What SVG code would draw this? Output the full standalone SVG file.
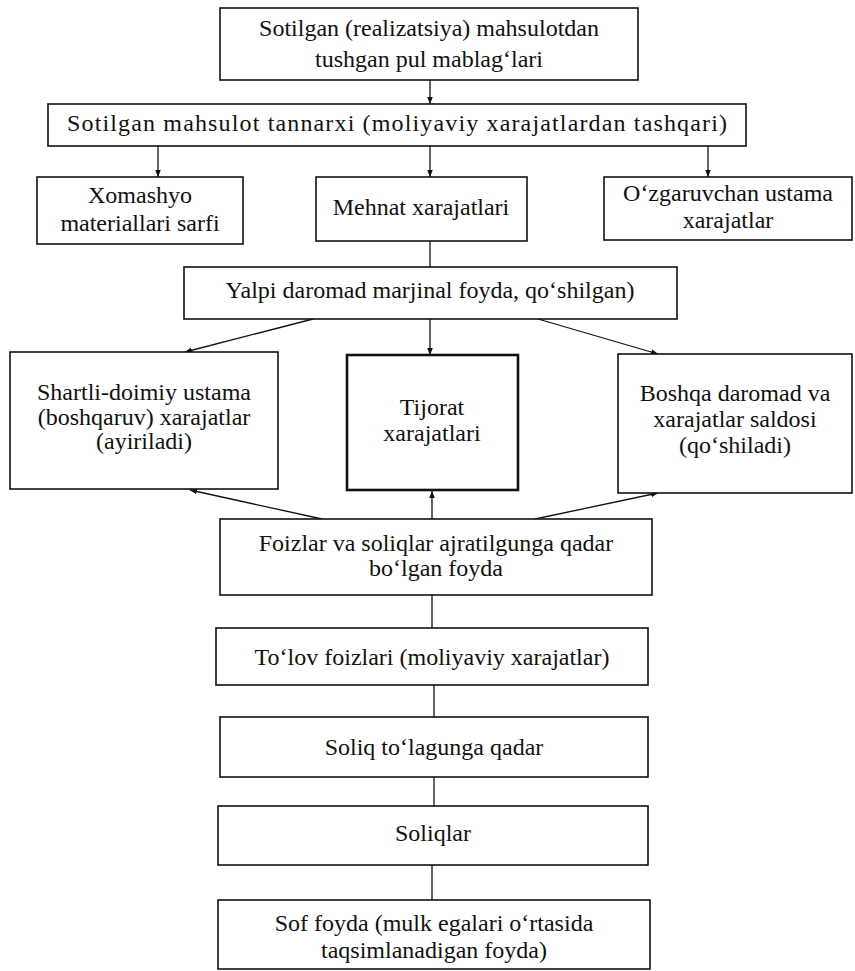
<svg xmlns="http://www.w3.org/2000/svg" width="855" height="971" viewBox="0 0 855 971">
<style>
rect{fill:#fff;stroke:#111;stroke-width:1.6}
.thick{stroke-width:2.6}
text{font-family:"Liberation Serif","Times New Roman",serif;font-size:24px;fill:#111;text-anchor:middle}
.c line{stroke:#111;stroke-width:1.3}
</style>
<defs>
<marker id="a" viewBox="0 0 10 10" refX="10" refY="5" markerWidth="7" markerHeight="7" orient="auto" markerUnits="userSpaceOnUse"><path d="M0,1 L10,5 L0,9 z" fill="#111"/></marker>
</defs>
<rect width="855" height="971" style="fill:#fff;stroke:none"/>
<g class="c">
<line x1="430" y1="80" x2="430" y2="104" marker-end="url(#a)"/>
<line x1="158" y1="146" x2="158" y2="177" marker-end="url(#a)"/>
<line x1="430" y1="146" x2="430" y2="177" marker-end="url(#a)"/>
<line x1="708" y1="146" x2="708" y2="177" marker-end="url(#a)"/>
<line x1="430" y1="241" x2="430" y2="267"/>
<line x1="313" y1="319" x2="185" y2="352" marker-end="url(#a)"/>
<line x1="430" y1="319" x2="430" y2="355" marker-end="url(#a)"/>
<line x1="538" y1="319" x2="658" y2="354" marker-end="url(#a)"/>
<line x1="322" y1="519" x2="190" y2="490" marker-end="url(#a)"/>
<line x1="432" y1="519" x2="432" y2="491" marker-end="url(#a)"/>
<line x1="535" y1="519" x2="658" y2="493" marker-end="url(#a)"/>
<line x1="432" y1="595" x2="432" y2="628"/>
<line x1="434" y1="685" x2="434" y2="717"/>
<line x1="434" y1="777" x2="434" y2="806"/>
<line x1="432" y1="865" x2="432" y2="900"/>
</g>
<g id="n1"><rect x="220" y="8" width="418" height="72"/><text x="429" y="36">Sotilgan (realizatsiya) mahsulotdan</text><text x="429" y="67">tushgan pul mablag‘lari</text></g>
<g id="n2"><rect x="48" y="104" width="698" height="42"/><text x="397" y="131" textLength="660" lengthAdjust="spacing">Sotilgan mahsulot tannarxi (moliyaviy xarajatlardan tashqari)</text></g>
<g id="n3"><rect x="37" y="177" width="206" height="67"/><text x="140" y="203">Xomashyo</text><text x="140" y="231">materiallari sarfi</text></g>
<g id="n4"><rect x="316" y="177" width="211" height="64"/><text x="421" y="215">Mehnat xarajatlari</text></g>
<g id="n5"><rect x="604" y="177" width="248" height="63"/><text x="728" y="201">O‘zgaruvchan ustama</text><text x="728" y="228">xarajatlar</text></g>
<g id="n6"><rect x="184" y="267" width="493" height="52"/><text x="430" y="298">Yalpi daromad marjinal foyda, qo‘shilgan)</text></g>
<g id="n7"><rect x="10" y="352" width="268" height="137"/><text x="144" y="400">Shartli-doimiy ustama</text><text x="144" y="425">(boshqaruv) xarajatlar</text><text x="144" y="449">(ayiriladi)</text></g>
<g id="n8"><rect class="thick" x="347" y="355" width="171" height="135"/><text x="432" y="415">Tijorat</text><text x="432" y="441">xarajatlari</text></g>
<g id="n9"><rect x="618" y="354" width="234" height="139"/><text x="735" y="401">Boshqa daromad va</text><text x="735" y="427">xarajatlar saldosi</text><text x="735" y="453">(qo‘shiladi)</text></g>
<g id="n10"><rect x="220" y="519" width="432" height="76"/><text x="436" y="551">Foizlar va soliqlar ajratilgunga qadar</text><text x="436" y="576">bo‘lgan foyda</text></g>
<g id="n11"><rect x="216" y="628" width="432" height="57"/><text x="432" y="665">To‘lov foizlari (moliyaviy xarajatlar)</text></g>
<g id="n12"><rect x="220" y="717" width="428" height="60"/><text x="434" y="755">Soliq to‘lagunga qadar</text></g>
<g id="n13"><rect x="218" y="806" width="430" height="59"/><text x="433" y="841">Soliqlar</text></g>
<g id="n14"><rect x="218" y="900" width="432" height="69"/><text x="434" y="931">Sof foyda (mulk egalari o‘rtasida</text><text x="434" y="958">taqsimlanadigan foyda)</text></g>
</svg>
